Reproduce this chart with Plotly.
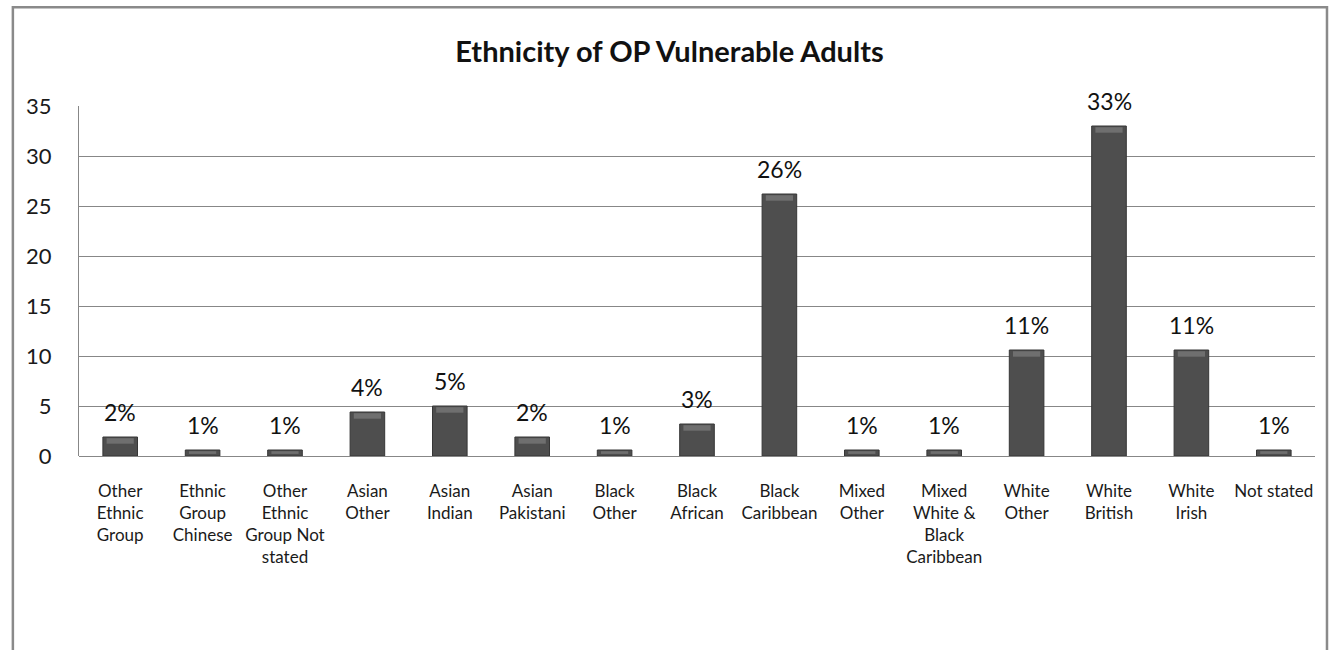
import plotly.graph_objects as go

# Ethnic groups and their share (%) of OP vulnerable adults
categories = [
    "Other<br>Ethnic<br>Group",
    "Ethnic<br>Group<br>Chinese",
    "Other<br>Ethnic<br>Group Not<br>stated",
    "Asian<br>Other",
    "Asian<br>Indian",
    "Asian<br>Pakistani",
    "Black<br>Other",
    "Black<br>African",
    "Black<br>Caribbean",
    "Mixed<br>Other",
    "Mixed<br>White &<br>Black<br>Caribbean",
    "White<br>Other",
    "White<br>British",
    "White<br>Irish",
    "Not stated",
]
shares = [1.9, 0.6, 0.6, 4.4, 5.0, 1.9, 0.6, 3.2, 26.2, 0.6, 0.6, 10.6, 33.0, 10.6, 0.6]
y_ticks = [0, 5, 10, 15, 20, 25, 30, 35]

labels = [f"{round(v)}%" for v in shares]
FONT = "Lato, 'Open Sans', sans-serif"
GRID = "#878787"

fig = go.Figure()

# main bars
fig.add_trace(go.Bar(
    x=categories, y=shares, width=0.42,
    marker=dict(color="#4e4e4e", line=dict(color="#363636", width=1)),
    hoverinfo="skip", showlegend=False,
))

# lighter bevel near the top of each bar
hl = [min(0.55, 0.45 * v) for v in shares]
fig.add_trace(go.Bar(
    x=categories, y=hl, base=[v - 0.12 - h for v, h in zip(shares, hl)],
    width=0.33,
    marker=dict(color="#6f6f6f", line=dict(width=0)),
    hoverinfo="skip", showlegend=False,
))

# percentage labels above the bars
for c, v, t in zip(categories, shares, labels):
    fig.add_annotation(
        x=c, y=v, text=t, showarrow=False, yanchor="bottom", yshift=9,
        font=dict(family=FONT, size=23, color="#111111"),
    )

fig.update_layout(
    width=1331, height=650,
    margin=dict(l=79, r=16, t=106, b=194),
    paper_bgcolor="white", plot_bgcolor="white",
    barmode="overlay", bargap=0.5,
    title=dict(
        text="<b>Ethnicity of OP Vulnerable Adults</b>",
        x=0.503, xref="container", xanchor="center",
        y=1 - 52 / 650, yref="container", yanchor="middle",
        font=dict(family=FONT, size=29, color="#111111"),
    ),
    xaxis=dict(
        tickfont=dict(family=FONT, size=17, color="#1a1a1a"),
        showgrid=False, showline=False, ticks="", ticklabelstandoff=23,
        tickangle=0, fixedrange=True,
    ),
    yaxis=dict(
        range=[0, 35], tickvals=y_ticks,
        tickfont=dict(family=FONT, size=22, color="#1a1a1a"),
        showgrid=True, gridcolor=GRID, gridwidth=1,
        showline=True, linecolor=GRID, linewidth=1,
        zeroline=True, zerolinecolor=GRID, zerolinewidth=1,
        ticks="", ticklabelstandoff=22, fixedrange=True,
    ),
    shapes=[dict(
        type="rect", xref="paper", yref="paper",
        x0=-0.0535, x1=1.0097, y0=-1.0, y1=1.282,
        line=dict(color="#8a8a8a", width=2.5), fillcolor="rgba(0,0,0,0)",
        layer="below",
    )],
)

fig.write_html("out.html")
